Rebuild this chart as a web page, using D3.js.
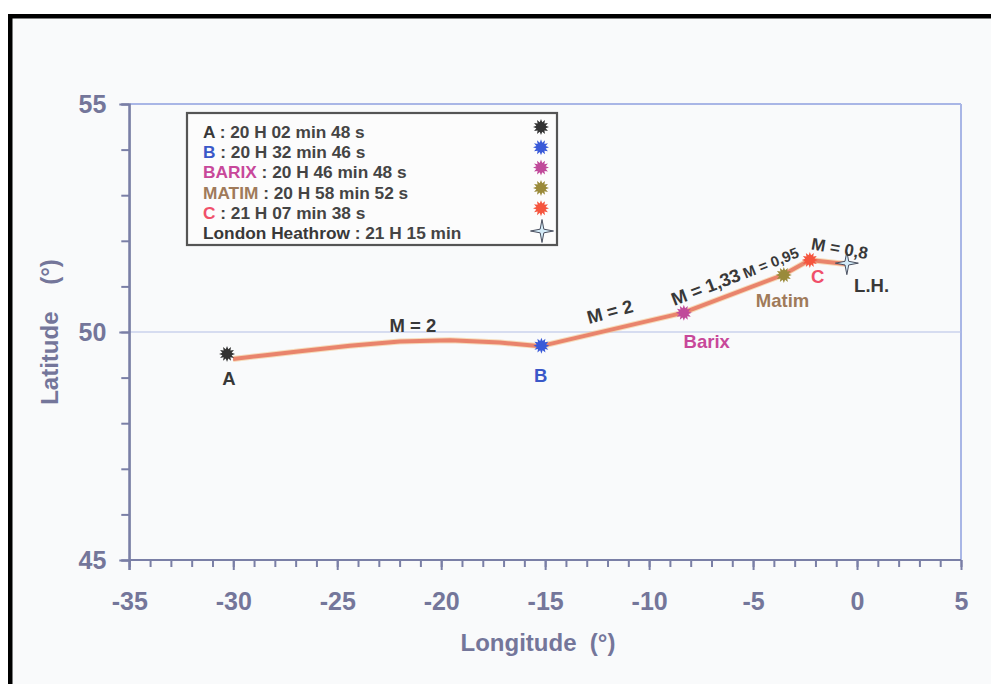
<!DOCTYPE html>
<html><head><meta charset="utf-8">
<script src="https://cdn.jsdelivr.net/npm/d3@7"></script>
<style>
html,body{margin:0;padding:0;background:#fff;}
svg{display:block;font-family:"Liberation Sans",Arial,Helvetica,sans-serif;font-weight:bold;}
text{white-space:pre;}
</style></head>
<body>
<svg id="chart" width="991" height="684"></svg>
<script>
// ---------- data ----------
const pointNames = ["A", "B", "BARIX", "MATIM", "C", "London Heathrow"];
const pointTimes = ["20 H 02 min 48 s", "20 H 32 min 46 s", "20 H 46 min 48 s", "20 H 58 min 52 s", "21 H 07 min 38 s", "21 H 15 min"];
const pointLon = [-30.30, -15.18, -8.33, -3.52, -2.27, -0.49];
const pointLat = [49.52, 49.70, 50.42, 51.25, 51.58, 51.51];

const trackLon = [-30.01, -28.24, -26.79, -24.39, -21.99, -19.58, -17.18, -15.21, -8.38, -3.57, -2.27, -0.54];
const trackLat = [49.41, 49.50, 49.58, 49.70, 49.79, 49.82, 49.77, 49.69, 50.42, 51.25, 51.58, 51.49];

const mapLabels = ["A", "B", "Barix", "Matim", "C", "L.H."];
const mapLabelLon = [-30.21, -15.21, -7.23, -3.58, -1.89, 0.70];
const mapLabelLat = [48.99, 49.04, 49.80, 50.70, 51.23, 51.03];

const machLabels = ["M = 2", "M = 2", "M = 1,33", "M = 0,95", "M = 0,8"];
const machLon = [-21.36, -11.89, -7.28, -4.15, -0.83];
const machLat = [50.15, 50.45, 50.99, 51.52, 51.84];
const machAngle = [0, -15, -21, -22, 10];

const xMajorTicks = [-35, -30, -25, -20, -15, -10, -5, 0, 5];
const yMajorTicks = [45, 50, 55];
const xTitle = "Longitude  (°)";
const yTitle = "Latitude    (°)";

// ---------- styles ----------
const markerColors = ["#333333", "#3a5ad8", "#c04a9a", "#9a8a3a", "#f5553e"];
const labelColors = ["#383838", "#3a58c8", "#c8489a", "#a07a5a", "#f0506a", "#383838"];
const axisColor = "#7a7fa6";
const tickTextColor = "#74769a";

const svg = d3.select("#chart");

// frame and background
svg.append("rect").attr("x", 0).attr("y", 0).attr("width", 991).attr("height", 684).attr("fill", "#ffffff");
svg.append("rect").attr("x", 12).attr("y", 18).attr("width", 979).attr("height", 666).attr("fill", "#f9fafb");
svg.append("rect").attr("x", 8).attr("y", 14).attr("width", 983).attr("height", 4.5).attr("fill", "#000");
svg.append("rect").attr("x", 8).attr("y", 14).attr("width", 4.5).attr("height", 670).attr("fill", "#000");

const x = d3.scaleLinear().domain([-35, 5]).range([129.3, 961]);
const y = d3.scaleLinear().domain([45, 55]).range([560, 104]);

// top & right border
svg.append("line").attr("x1", x(-35)).attr("x2", x(5)).attr("y1", y(55)).attr("y2", y(55))
  .attr("stroke", "#a9b6e6").attr("stroke-width", 2);
svg.append("line").attr("x1", x(5)).attr("x2", x(5)).attr("y1", y(55)).attr("y2", y(45))
  .attr("stroke", "#a9b6e6").attr("stroke-width", 2);
// 50 grid line
svg.append("line").attr("x1", x(-35)).attr("x2", x(5)).attr("y1", y(50)).attr("y2", y(50))
  .attr("stroke", "#b4bde6").attr("stroke-width", 1.2);

// y axis minor
const yMinor = svg.append("g").attr("transform", `translate(${x(-35)},0)`)
  .call(d3.axisLeft(y).tickValues(d3.range(45, 56)).tickSize(8).tickFormat(""));
// y axis major
const yMajor = svg.append("g").attr("transform", `translate(${x(-35)},0)`)
  .call(d3.axisLeft(y).tickValues(yMajorTicks).tickSize(10).tickPadding(13).tickFormat(d3.format("d")));
// x axis minor
const xMinor = svg.append("g").attr("transform", `translate(0,${y(45)})`)
  .call(d3.axisBottom(x).tickValues(d3.range(-35, 6)).tickSize(7).tickFormat(""));
const xMajor = svg.append("g").attr("transform", `translate(0,${y(45)})`)
  .call(d3.axisBottom(x).tickValues(xMajorTicks).tickSize(10).tickPadding(22).tickFormat(d3.format("d")));

[yMinor, yMajor, xMinor, xMajor].forEach(g => {
  g.select(".domain").attr("stroke", axisColor).attr("stroke-width", 2);
  g.selectAll(".tick line").attr("stroke", axisColor).attr("stroke-width", 2);
  g.selectAll(".tick text").attr("fill", tickTextColor).attr("font-size", 25)
    .attr("font-family", "Liberation Sans, Arial, sans-serif").attr("font-weight", "bold");
});
yMajor.select(".domain").attr("d", `M-0,${y(55)}V${y(45) + 10}`);
xMinor.select(".domain").attr("d", `M${x(-35)},0H${x(5)}`);
xMajor.select(".domain").attr("d", `M${x(-35)},0H${x(5)}`);
xMajor.selectAll(".tick text").text(d => d < 0 ? "-" + Math.abs(d) : d);

// axis titles
svg.append("text").attr("x", 538).attr("y", 643).attr("text-anchor", "middle").attr("dy", "0.35em")
  .attr("font-size", 24).attr("fill", tickTextColor).text(xTitle);
svg.append("text").attr("transform", "translate(50,332) rotate(-90)").attr("text-anchor", "middle").attr("dy", "0.35em")
  .attr("font-size", 24).attr("fill", tickTextColor).text(yTitle);

// track
const track = trackLon.map((d, i) => [d, trackLat[i]]);
const lineGen = d3.line().x(d => x(d[0])).y(d => y(d[1])).curve(d3.curveLinear);
svg.append("path").attr("d", lineGen(track)).attr("fill", "none")
  .attr("stroke", "#f3c48c").attr("stroke-width", 6).attr("stroke-linejoin", "round").attr("opacity", 0.6);
svg.append("path").attr("d", lineGen(track)).attr("fill", "none")
  .attr("stroke", "#e9846c").attr("stroke-width", 4).attr("stroke-linejoin", "round");

// starburst marker
function burst(r1, r2, n) {
  const pts = [];
  for (let i = 0; i < n * 2; i++) {
    const a = Math.PI * i / n;
    const r = i % 2 === 0 ? r1 : r2;
    pts.push([r * Math.sin(a), -r * Math.cos(a)]);
  }
  return "M" + pts.map(p => p.join(",")).join("L") + "Z";
}
function star4(r1, r2) {
  const pts = [];
  for (let i = 0; i < 8; i++) {
    const a = Math.PI * i / 4;
    const r = i % 2 === 0 ? r1 : r2;
    pts.push([r * Math.sin(a), -r * Math.cos(a)]);
  }
  return "M" + pts.map(p => p.join(",")).join("L") + "Z";
}

function drawMarker(g, i) {
  if (i < 5) {
    g.append("path").attr("d", burst(8, 4.8, 12)).attr("fill", markerColors[i]);
  } else {
    g.append("path").attr("d", star4(11.5, 2.6)).attr("fill", "#d3ebf8").attr("stroke", "#4a5060").attr("stroke-width", 1);
  }
}

pointLon.forEach((lon, i) => {
  const g = svg.append("g").attr("transform", `translate(${x(lon)},${y(pointLat[i])})`);
  drawMarker(g, i);
});

// point labels
mapLabels.forEach((t, i) => {
  svg.append("text").attr("x", x(mapLabelLon[i])).attr("y", y(mapLabelLat[i]))
    .attr("text-anchor", "middle").attr("dy", "0.36em").attr("font-size", 18.5)
    .attr("fill", labelColors[i]).text(t);
});

// Mach labels
machLabels.forEach((t, i) => {
  svg.append("text").attr("transform", `translate(${x(machLon[i])},${y(machLat[i])}) rotate(${machAngle[i]})`)
    .attr("text-anchor", "middle").attr("dy", "0.36em")
    .attr("font-size", i === 3 ? 15 : (i === 4 ? 17 : 18.5))
    .attr("fill", "#383838").text(t);
});

// legend
const lg = svg.append("g");
lg.append("rect").attr("x", 187).attr("y", 113).attr("width", 370).attr("height", 132)
  .attr("fill", "#fcfcfc").attr("stroke", "#555", ).attr("stroke-width", 2.2);
pointNames.forEach((n, i) => {
  const cy = 131.5 + i * 20.3;
  const t = lg.append("text").attr("x", 203).attr("y", cy).attr("dy", "0.36em").attr("font-size", 17.3);
  t.append("tspan").attr("fill", labelColors[i]).text(n);
  t.append("tspan").attr("fill", "#444").text(" : " + pointTimes[i]);
  const mg = lg.append("g").attr("transform", `translate(${i === 5 ? 542 : 541},${cy - (i === 5 ? 2 : 4.5)})`);
  drawMarker(mg, i);
});
</script>
</body></html>
